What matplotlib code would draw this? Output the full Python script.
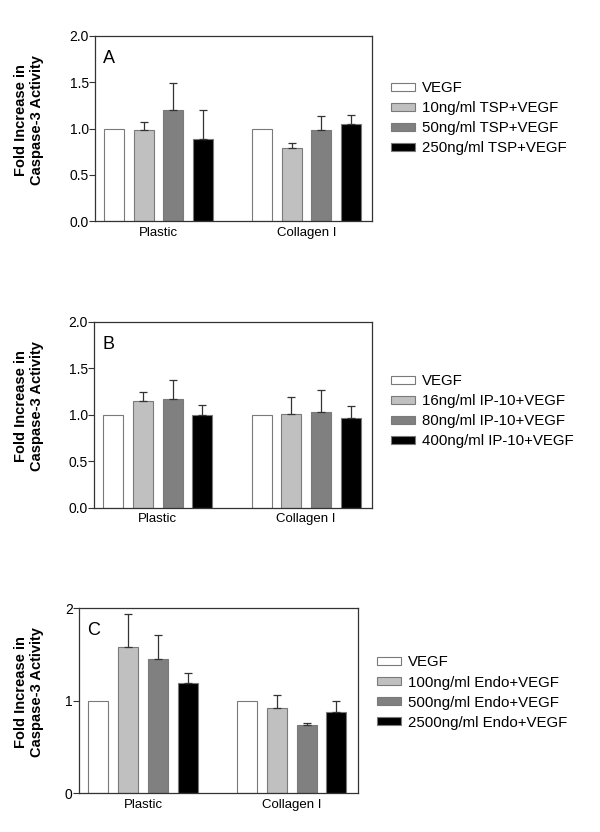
import matplotlib
matplotlib.use("Agg")
import matplotlib.pyplot as plt
import numpy as np

plt.rcParams['font.family'] = ['Liberation Sans', 'DejaVu Sans']

groups = ["Plastic", "Collagen I"]
colors = ["#ffffff", "#c0c0c0", "#808080", "#000000"]

# Panel A (TSP)
a_labels = ["VEGF", "10ng/ml TSP+VEGF", "50ng/ml TSP+VEGF", "250ng/ml TSP+VEGF"]
a_means = [[1.00, 1.00], [0.98, 0.79], [1.20, 0.98], [0.89, 1.045]]
a_errs = [[0.0, 0.0], [0.095, 0.05], [0.29, 0.16], [0.31, 0.097]]

# Panel B (IP-10)
b_labels = ["VEGF", "16ng/ml IP-10+VEGF", "80ng/ml IP-10+VEGF", "400ng/ml IP-10+VEGF"]
b_means = [[1.00, 1.00], [1.149, 1.005], [1.167, 1.027], [1.00, 0.966]]
b_errs = [[0.0, 0.0], [0.10, 0.185], [0.21, 0.24], [0.11, 0.125]]

# Panel C (Endostatin)
c_labels = ["VEGF", "100ng/ml Endo+VEGF", "500ng/ml Endo+VEGF", "2500ng/ml Endo+VEGF"]
c_means = [[1.00, 1.00], [1.576, 0.917], [1.45, 0.737], [1.194, 0.874]]
c_errs = [[0.0, 0.0], [0.355, 0.145], [0.26, 0.02], [0.10, 0.126]]

fig = plt.figure(figsize=(6.0, 8.32), dpi=100)
W, H = 600.0, 832.0

def make_panel(rect_px, letter, labels, means, errs, yticks, yticklabels,
               leg_x, leg_yc):
    left, top, right, bottom = rect_px
    ax = fig.add_axes([left / W, 1 - bottom / H, (right - left) / W, (bottom - top) / H])
    group_pos = np.array([0.0, 5.0])
    handles = []
    for i, (m, e, c) in enumerate(zip(means, errs, colors)):
        x = group_pos + i
        b = ax.bar(x, m, width=0.675, color=c, edgecolor="#7a7a7a", linewidth=0.8,
                   zorder=2, label=labels[i])
        handles.append(b)
        m = np.array(m); e = np.array(e)
        mask = e > 0
        if mask.any():
            ax.errorbar(x[mask], m[mask], yerr=[np.zeros(mask.sum()), e[mask]],
                        fmt="none", ecolor="#333333", elinewidth=0.9, capsize=3,
                        capthick=0.9, zorder=3)
    ax.set_xlim(-0.65, 8.72)
    ax.set_ylim(0, 2.0)
    ax.set_yticks(yticks)
    ax.set_yticklabels(yticklabels, fontsize=10)
    ax.set_xticks(group_pos + 1.5)
    ax.set_xticklabels(groups, fontsize=9.5)
    ax.tick_params(axis="x", length=0, pad=4)
    ax.tick_params(axis="y", direction="out", length=4, width=0.8, color="#333333", pad=0.5)
    for s in ax.spines.values():
        s.set_color("#333333")
        s.set_linewidth(0.9)
    ax.set_ylabel("Fold Increase in\nCaspase-3 Activity", fontsize=10.5, fontweight="bold",
                  linespacing=1.2)
    lx = (44 - left) / (right - left)
    ax.yaxis.set_label_coords(lx, 0.545)
    ax.text(0.03, 0.855, letter, transform=ax.transAxes, fontsize=13, va="baseline", ha="left")
    fig.legend(handles=handles, labels=labels, loc="center left",
               bbox_to_anchor=(leg_x / W, 1 - leg_yc / H), frameon=False,
               fontsize=10.8, handlelength=1.6, handleheight=0.45, handletextpad=0.45,
               labelspacing=0.4, borderpad=0, borderaxespad=0)
    return ax

make_panel((95, 35.7, 372, 221.3), "A", a_labels, a_means, a_errs,
           [0, 0.5, 1.0, 1.5, 2.0], ["0.0", "0.5", "1.0", "1.5", "2.0"], 391, 118)
make_panel((94, 322, 372, 507.7), "B", b_labels, b_means, b_errs,
           [0, 0.5, 1.0, 1.5, 2.0], ["0.0", "0.5", "1.0", "1.5", "2.0"], 391, 411)
make_panel((79, 608, 357.7, 793.3), "C", c_labels, c_means, c_errs,
           [0, 1, 2], ["0", "1", "2"], 377, 692.5)

fig.savefig("out.png", dpi=100)
